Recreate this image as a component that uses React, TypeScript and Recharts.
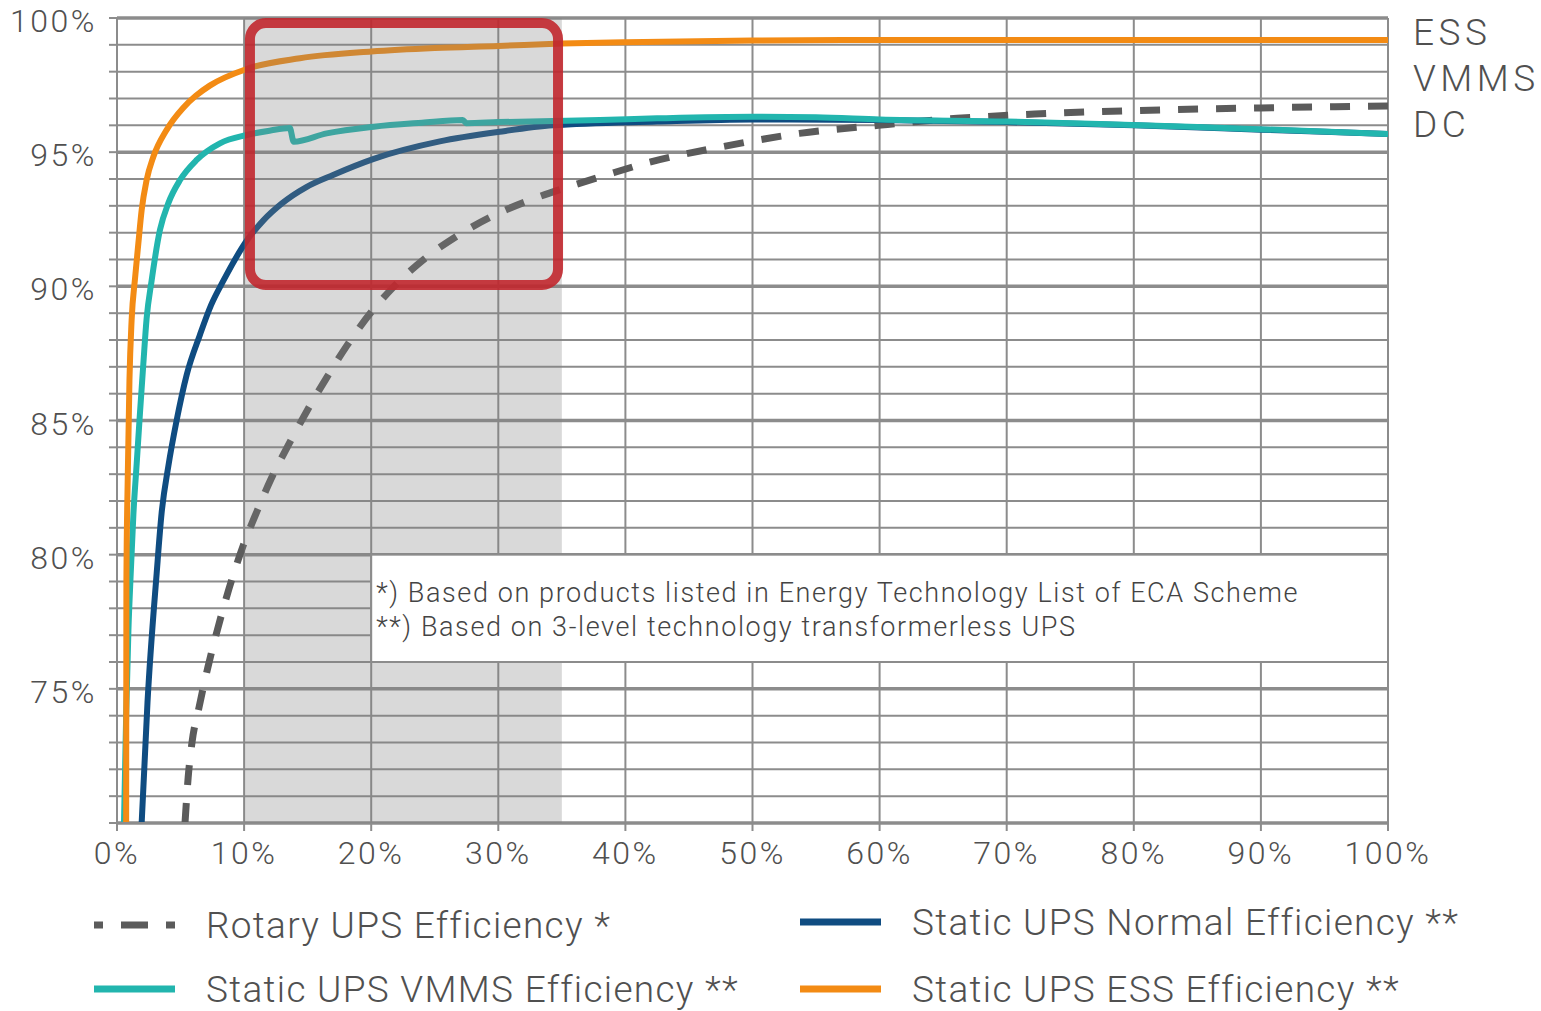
import React from "react"
import { LineChart, Line, XAxis, YAxis, CartesianGrid, ReferenceArea } from "recharts"

// load (%) vs efficiency (%)
const rotaryLoad = [5.35, 5.6, 5.9, 6.45, 7.15, 7.9, 9.9, 11.0, 12.1, 13.5, 15.0, 16.5, 18.1, 20.1, 21.8, 24.4, 27.0, 29.9, 32.7, 35.6, 38.5, 41.7, 47.6, 53.7, 59.9, 66.1, 72.2, 80, 90, 100]
const rotaryEff = [70, 71.7, 73.0, 74.3, 75.8, 77.2, 80.3, 81.6, 82.8, 84.1, 85.4, 86.6, 87.8, 89.1, 90.0, 91.1, 91.95, 92.7, 93.25, 93.72, 94.15, 94.6, 95.2, 95.7, 96.0, 96.26, 96.42, 96.55, 96.65, 96.72]

const normalLoad = [1.94, 2.4, 3.12, 3.51, 4.04, 4.69, 5.48, 6.53, 7.4, 8.36, 10.2, 11.5, 13.0, 14.9, 17.0, 20.2, 25.4, 30.1, 34.3, 42.5, 50, 60, 70, 80, 90, 100]
const normalEff = [70, 74.5, 79.3, 81.55, 83.3, 85.0, 86.7, 88.2, 89.3, 90.2, 91.7, 92.45, 93.1, 93.7, 94.15, 94.75, 95.4, 95.76, 96.0, 96.14, 96.22, 96.2, 96.12, 96.0, 95.84, 95.68]

const vmmsLoad = [0.55, 0.72, 0.9, 1.08, 1.29, 1.55, 1.81, 2.07, 2.33, 2.72, 3.38, 4.04, 4.96, 6.27, 8.1, 10.2, 12.0, 13.6, 13.9, 16.5, 20.2, 24, 27.2, 27.5, 30, 34.3, 38, 42.5, 50, 55, 60, 70, 77.3, 85, 100]
const vmmsEff = [70, 74, 77.2, 79.3, 81.5, 83.4, 85.3, 87.1, 88.8, 90.2, 92.1, 93.1, 93.96, 94.71, 95.33, 95.64, 95.8, 95.9, 95.39, 95.7, 95.95, 96.1, 96.2, 96.08, 96.12, 96.16, 96.2, 96.26, 96.32, 96.3, 96.22, 96.14, 96.05, 95.94, 95.68]

const essLoad = [0.72, 0.74, 0.85, 0.98, 1.15, 1.42, 1.68, 1.94, 2.33, 2.86, 3.9, 5.2, 6.2, 7.3, 10.2, 14.4, 20, 25, 30, 35, 40, 50, 60, 100]
const essEff = [70, 79, 83, 86.5, 88.74, 90.3, 91.6, 92.84, 93.96, 94.83, 95.83, 96.65, 97.1, 97.48, 98.1, 98.5, 98.75, 98.88, 98.96, 99.05, 99.1, 99.16, 99.18, 99.18]

const xTicks = [0, 10, 20, 30, 40, 50, 60, 70, 80, 90, 100]
const yTicks = [70, 71, 72, 73, 74, 75, 76, 77, 78, 79, 80, 81, 82, 83, 84, 85, 86, 87, 88, 89, 90, 91, 92, 93, 94, 95, 96, 97, 98, 99, 100]
const yMajor = [70, 75, 80, 85, 90, 95, 100]
const yLabels = [75, 80, 85, 90, 95, 100]

const rightLabels = ["ESS", "VMMS", "DC"]
const notes = [
  "*) Based on products listed in Energy Technology List of ECA Scheme",
  "**) Based on 3-level technology transformerless UPS",
]

const FONT = "Roboto, 'Noto Sans', sans-serif"
const TEXT = "#505050"
const GRID = "#8c8c8c"

const toPoints = (load: number[], eff: number[]) => load.map((x, i) => ({ load: x, eff: eff[i] }))

const series = [
  { name: "Rotary UPS Efficiency *", data: toPoints(rotaryLoad, rotaryEff), color: "#5b5b5b", dash: "20 18" },
  { name: "Static UPS Normal Efficiency **", data: toPoints(normalLoad, normalEff), color: "#0f4c81" },
  { name: "Static UPS VMMS Efficiency **", data: toPoints(vmmsLoad, vmmsEff), color: "#22b5ae" },
  { name: "Static UPS ESS Efficiency **", data: toPoints(essLoad, essEff), color: "#f38b14" },
]

function YTick({ x, y, payload }: any) {
  if (!yLabels.includes(payload.value)) return null
  return (
    <text x={x} y={y + 3} textAnchor="end" dominantBaseline="central" fill={TEXT} fontSize={32} fontWeight={300} letterSpacing={2.5} fontFamily={FONT}>
      {payload.value}%
    </text>
  )
}

function XTick({ x, y, payload }: any) {
  return (
    <text x={x} y={y + 14} textAnchor="middle" dominantBaseline="central" fill={TEXT} fontSize={32} fontWeight={300} letterSpacing={2.5} fontFamily={FONT}>
      {payload.value}%
    </text>
  )
}

function NoteBox(props: any) {
  const { x, y, width, height } = props
  return (
    <g>
      <rect x={x} y={y} width={width} height={height} fill="#ffffff" stroke={GRID} strokeWidth={2} />
      {notes.map((t, i) => (
        <text key={i} x={x + 5} y={y + 47 + i * 34} fill="#444" fontSize={27} fontWeight={300} fontFamily={FONT} letterSpacing={1.6}>
          {t}
        </text>
      ))}
    </g>
  )
}

function RedBox(props: any) {
  const { x, y, width, height } = props
  return <rect x={x} y={y} width={width} height={height} rx={16} fill="none" stroke="#c1272d" strokeWidth={10} strokeOpacity={0.9} />
}

function Swatch({ color, dash }: { color: string; dash?: string }) {
  return (
    <svg width={82} height={10} style={{ display: "block" }}>
      {dash ? (
        <line x1={0} y1={5} x2={81} y2={5} stroke={color} strokeWidth={7} strokeDasharray="27 18" strokeDashoffset={18} />
      ) : (
        <line x1={0} y1={5} x2={81} y2={5} stroke={color} strokeWidth={7} />
      )}
    </svg>
  )
}

const legendPos = [
  { left: 94, top: 925 },
  { left: 800, top: 922 },
  { left: 94, top: 989 },
  { left: 800, top: 989 },
]

export default function App() {
  return (
    <div style={{ position: "absolute", left: 0, top: 0, width: 1541, height: 1011, background: "#fff", fontFamily: FONT }}>
      <LineChart width={1541} height={1011} margin={{ top: 18, right: 153, left: 17, bottom: 148 }}>
        <CartesianGrid horizontalValues={yTicks} verticalValues={xTicks} stroke={GRID} strokeWidth={2} />
        <CartesianGrid horizontalValues={yMajor} vertical={false} stroke={GRID} strokeWidth={3.5} />
        <XAxis
          type="number"
          dataKey="load"
          domain={[0, 100]}
          ticks={xTicks}
          allowDataOverflow
          height={40}
          tickSize={8}
          tickMargin={8}
          stroke={GRID}
          strokeWidth={2}
          tick={<XTick />}
        />
        <YAxis
          type="number"
          dataKey="eff"
          domain={[70, 100]}
          ticks={yTicks}
          interval={0}
          allowDataOverflow
          width={100}
          tickSize={8}
          tickMargin={12}
          stroke={GRID}
          strokeWidth={2}
          tick={<YTick />}
        />
        {series.map(s => (
          <Line
            key={s.name}
            data={s.data}
            dataKey="eff"
            name={s.name}
            type="monotone"
            stroke={s.color}
            strokeWidth={s.dash ? 7 : 6}
            strokeDasharray={s.dash}
            dot={false}
            activeDot={false}
            isAnimationActive={false}
          />
        ))}
        <ReferenceArea x1={10} x2={35} y1={70} y2={100} fill="#808080" fillOpacity={0.3} stroke="none" zIndex={600} />
        <ReferenceArea x1={20} x2={100} y1={76} y2={80} shape={<NoteBox />} zIndex={650} />
        <ReferenceArea x1={10.46} x2={34.7} y1={90.05} y2={99.81} shape={<RedBox />} zIndex={700} />
      </LineChart>

      {rightLabels.map((t, i) => (
        <div
          key={t}
          style={{ position: "absolute", left: 1413, top: 12 + i * 46, fontSize: 37, fontWeight: 300, lineHeight: "42px", color: TEXT, letterSpacing: 4.5 }}
        >
          {t}
        </div>
      ))}

      {series.map((s, i) => (
        <div
          key={s.name}
          style={{ position: "absolute", left: legendPos[i].left, top: legendPos[i].top - 22, height: 44, display: "flex", alignItems: "center" }}
        >
          <Swatch color={s.color} dash={s.dash} />
          <span style={{ marginLeft: 30, fontSize: 37, fontWeight: 300, letterSpacing: 1.3, color: TEXT, whiteSpace: "nowrap" }}>{s.name}</span>
        </div>
      ))}
    </div>
  )
}
